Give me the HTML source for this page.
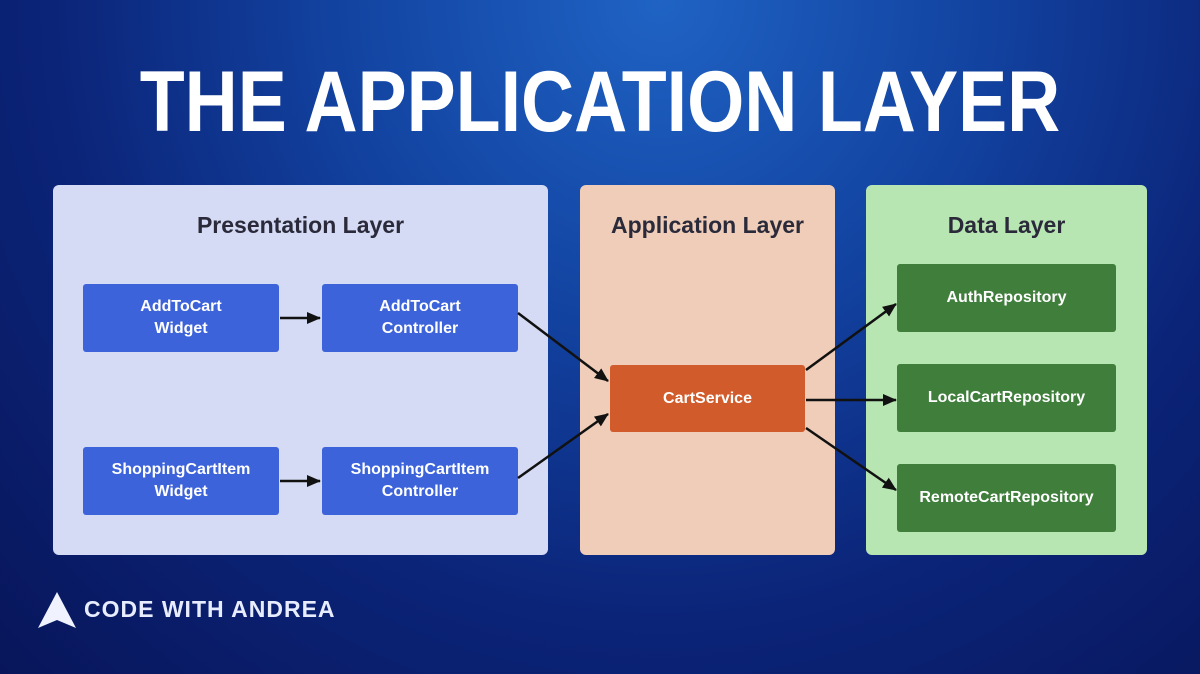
<!DOCTYPE html>
<html><head><style>
body{margin:0;width:1200px;height:674px;overflow:hidden;font-family:"Liberation Sans",sans-serif;
background:radial-gradient(ellipse at 55% 0%,#1f63c4 0%,#1242a0 35%,#0b2478 65%,#08155a 100%);position:relative}
.t{position:absolute;left:0;width:1200px;top:52px;text-align:center;color:#fff;font-weight:bold;font-size:86px;line-height:100px;transform:scaleX(0.855);transform-origin:600px 0;white-space:nowrap}
.p{position:absolute;border-radius:6px}
.h{position:absolute;width:100%;top:27px;text-align:center;font-weight:bold;font-size:23px;color:#2a2a3a}
.b{position:absolute;border-radius:3px;color:#fff;font-weight:bold;font-size:16px;display:flex;align-items:center;justify-content:center;text-align:center;line-height:22px}
.bl{background:#3d63da;width:196px;height:68px}
.g{background:#3f7e3b;width:219px;height:68px;left:897px}
.logo{position:absolute;left:84px;top:596px;color:#e8ecff;font-size:23px;letter-spacing:1px;font-weight:bold}
</style></head><body>
<div class="t">THE APPLICATION LAYER</div>
<div class="p" style="left:53px;top:185px;width:495px;height:370px;background:#d5dbf4"><div class="h">Presentation Layer</div></div>
<div class="p" style="left:580px;top:185px;width:255px;height:370px;background:#efcdb8"><div class="h">Application Layer</div></div>
<div class="p" style="left:866px;top:185px;width:281px;height:370px;background:#b8e6b3"><div class="h">Data Layer</div></div>
<div class="b bl" style="left:83px;top:284px">AddToCart<br>Widget</div>
<div class="b bl" style="left:322px;top:284px">AddToCart<br>Controller</div>
<div class="b bl" style="left:83px;top:447px">ShoppingCartItem<br>Widget</div>
<div class="b bl" style="left:322px;top:447px">ShoppingCartItem<br>Controller</div>
<div class="b" style="left:610px;top:365px;width:195px;height:67px;background:#d15b2a">CartService</div>
<div class="b g" style="top:264px">AuthRepository</div>
<div class="b g" style="top:364px">LocalCartRepository</div>
<div class="b g" style="top:464px">RemoteCartRepository</div>
<svg style="position:absolute;left:0;top:0" width="1200" height="674">
<defs><marker id="a" markerWidth="14" markerHeight="12" refX="13" refY="6" orient="auto" markerUnits="userSpaceOnUse"><path d="M0,0L14,6L0,12z" fill="#111"/></marker></defs>
<g stroke="#111" stroke-width="2.5" fill="none">
<line x1="280" y1="318" x2="320" y2="318" marker-end="url(#a)"/>
<line x1="280" y1="481" x2="320" y2="481" marker-end="url(#a)"/>
<line x1="518" y1="313" x2="608" y2="381" marker-end="url(#a)"/>
<line x1="518" y1="478" x2="608" y2="414" marker-end="url(#a)"/>
<line x1="806" y1="370" x2="896" y2="304" marker-end="url(#a)"/>
<line x1="806" y1="400" x2="896" y2="400" marker-end="url(#a)"/>
<line x1="806" y1="428" x2="896" y2="490" marker-end="url(#a)"/>
</g>
<path d="M57,592L76,628L57,620L38,628Z" fill="#f0f2ff"/>
</svg>
<div class="logo">CODE WITH ANDREA</div>
</body></html>
